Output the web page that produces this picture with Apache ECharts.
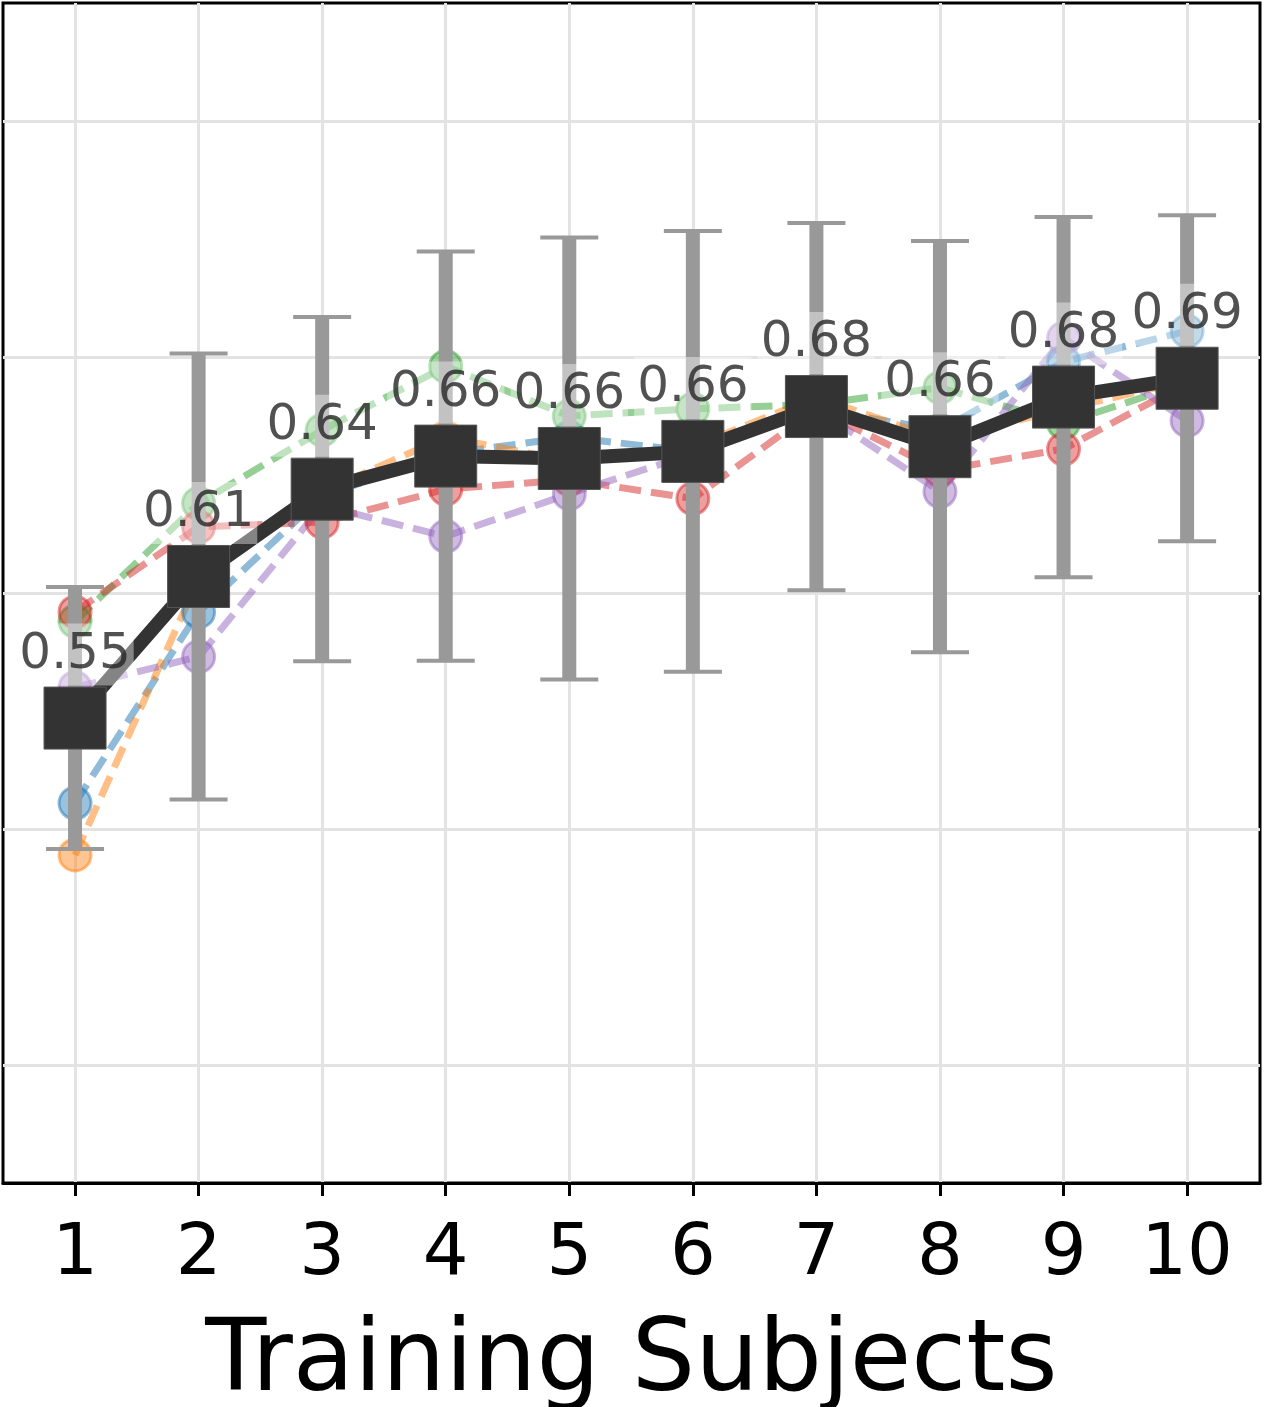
<!DOCTYPE html>
<html lang="en">
<head>
    <meta charset="UTF-8">
    <title>Training Subjects</title>
    <script src="https://cdn.jsdelivr.net/npm/echarts@6/dist/echarts.min.js"></script>
    <style>
        html, body { margin: 0; padding: 0; background: #fff; }
        #chart { width: 1264px; height: 1407px; }
    </style>
</head>
<body>
<div id="chart"></div>
<script>
    // x: number of training subjects
    var subjects = [1, 2, 3, 4, 5, 6, 7, 8, 9, 10];
    var xTicks = [1, 2, 3, 4, 5, 6, 7, 8, 9, 10];
    var yGrid = [0.4, 0.5, 0.6, 0.7, 0.8];

    // mean and std over runs
    var meanAcc = [0.547, 0.607, 0.644, 0.658, 0.657, 0.660, 0.679, 0.662, 0.683, 0.691];
    var stdAcc = [0.0555, 0.0945, 0.0729, 0.0867, 0.0936, 0.0934, 0.0778, 0.0871, 0.0763, 0.0691];

    // single runs
    var runBlue = [0.511, 0.592, 0.641, 0.659, 0.666, 0.660, 0.678, 0.669, 0.698, 0.711];
    var runOrange = [0.489, 0.606, 0.643, 0.666, 0.656, 0.662, 0.683, 0.665, 0.678, 0.690];
    var runGreen = [0.588, 0.638, 0.669, 0.696, 0.675, 0.678, 0.680, 0.687, 0.672, 0.689];
    var runRed = [0.592, 0.628, 0.630, 0.644, 0.648, 0.640, 0.678, 0.652, 0.661, 0.689];
    var runPurple = [0.560, 0.573, 0.637, 0.624, 0.642, 0.659, 0.678, 0.643, 0.708, 0.673];

    var runs = [
        { data: runBlue, rgb: '31,119,180' },
        { data: runOrange, rgb: '255,127,14' },
        { data: runGreen, rgb: '44,160,44' },
        { data: runRed, rgb: '214,39,40' },
        { data: runPurple, rgb: '148,103,189' }
    ];

    function pairs(ys) {
        return subjects.map(function (x, i) { return [x, ys[i]]; });
    }

    var series = runs.map(function (r) {
        return {
            type: 'line',
            data: pairs(r.data),
            z: 2,
            symbol: 'circle',
            symbolSize: 32,
            lineStyle: { color: 'rgba(' + r.rgb + ',0.5)', width: 7, type: [22, 10] },
            itemStyle: {
                color: 'rgba(' + r.rgb + ',0.45)',
                borderColor: 'rgba(' + r.rgb + ',0.5)',
                borderWidth: 3
            },
            emphasis: { disabled: true },
            silent: true
        };
    });

    // error bars
    series.push({
        type: 'custom',
        z: 3,
        silent: true,
        encode: { x: 0, y: [1, 2] },
        data: subjects.map(function (x, i) {
            return [x, meanAcc[i] - stdAcc[i], meanAcc[i] + stdAcc[i]];
        }),
        renderItem: function (params, api) {
            var x = api.value(0);
            var lo = api.coord([x, api.value(1)]);
            var hi = api.coord([x, api.value(2)]);
            var cap = 29;
            var st = { stroke: '#999999', lineWidth: 14 };
            var capSt = { stroke: '#999999', lineWidth: 4 };
            return {
                type: 'group',
                children: [
                    { type: 'line', shape: { x1: hi[0], y1: hi[1], x2: lo[0], y2: lo[1] }, style: st },
                    { type: 'line', shape: { x1: hi[0] - cap, y1: hi[1], x2: hi[0] + cap, y2: hi[1] }, style: capSt },
                    { type: 'line', shape: { x1: lo[0] - cap, y1: lo[1], x2: lo[0] + cap, y2: lo[1] }, style: capSt }
                ]
            };
        }
    });

    // mean line
    series.push({
        type: 'line',
        data: pairs(meanAcc),
        z: 4,
        symbol: 'rect',
        symbolSize: 62,
        lineStyle: { color: '#333333', width: 14 },
        itemStyle: { color: '#333333', borderColor: '#555555', borderWidth: 1 },
        emphasis: { disabled: true },
        silent: true
    });

    // value labels on top
    series.push({
        type: 'scatter',
        data: pairs(meanAcc),
        z: 5,
        symbolSize: 1,
        itemStyle: { color: 'rgba(0,0,0,0)' },
        silent: true,
        label: {
            show: true,
            position: 'top',
            distance: 32,
            formatter: function (p) { return p.value[1].toFixed(2); },
            fontFamily: 'DejaVu Sans',
            fontSize: 50,
            color: '#262626',
            lineHeight: 56,
            padding: [3, 3, 3, 3],
            backgroundColor: 'rgba(255,255,255,0.5)'
        }
    });

    var chart = echarts.init(document.getElementById('chart'));
    chart.setOption({
        animation: false,
        grid: {
            left: 3, right: 4, top: 3, bottom: 224,
            outerBoundsMode: 'none',
            containLabel: false,
            show: true,
            borderColor: '#000000',
            borderWidth: 3
        },
        xAxis: {
            type: 'value',
            min: 0.417,
            max: 10.59,
            minInterval: 1,
            maxInterval: 1,
            name: 'Training Subjects',
            nameLocation: 'middle',
            nameGap: 131,
            nameTextStyle: { fontFamily: 'DejaVu Sans', fontSize: 100, color: '#000000' },
            axisLine: { lineStyle: { color: '#000000', width: 3 } },
            axisTick: { customValues: xTicks, length: 13, lineStyle: { color: '#000000', width: 3 } },
            axisLabel: {
                customValues: xTicks,
                margin: 36,
                fontFamily: 'DejaVu Sans',
                fontSize: 72,
                color: '#000000'
            },
            splitLine: { show: true, lineStyle: { color: '#e3e3e3', width: 3 } }
        },
        yAxis: {
            type: 'value',
            min: 0.35,
            max: 0.85,
            minInterval: 0.1,
            maxInterval: 0.1,
            axisLine: { show: false },
            axisTick: { show: false, customValues: yGrid },
            axisLabel: { show: false },
            splitLine: { show: true, lineStyle: { color: '#e3e3e3', width: 3 } }
        },
        series: series
    });
</script>
</body>
</html>
